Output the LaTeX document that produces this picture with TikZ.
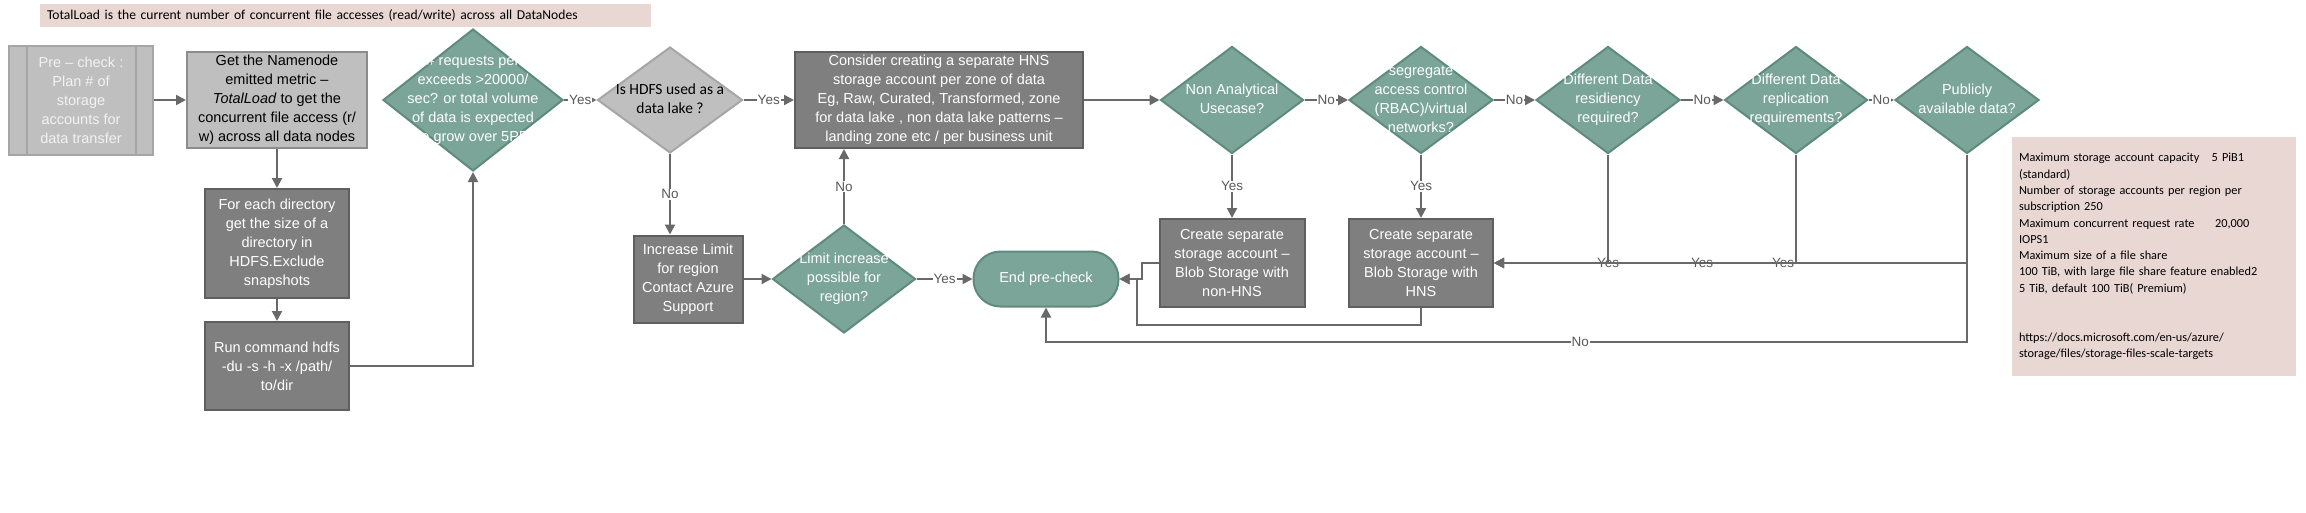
\documentclass[tikz,border=0pt]{standalone}
\usepackage{fontspec}
\setmainfont{Liberation Sans}
\newfontfamily\notefont{Carlito}
\usetikzlibrary{shapes.geometric,arrows.meta}
\definecolor{sage}{HTML}{7AA598}
\definecolor{sageedge}{HTML}{5F8B7D}
\definecolor{boxdark}{HTML}{7F7F7F}
\definecolor{edgedark}{HTML}{5F5F5F}
\definecolor{boxlight}{HTML}{BFBFBF}
\definecolor{edgelight}{HTML}{A6A6A6}
\definecolor{edgemid}{HTML}{8C8C8C}
\definecolor{pretext}{HTML}{F2F2F2}
\definecolor{wirecol}{HTML}{696969}
\definecolor{labgray}{HTML}{595959}
\definecolor{notepink}{HTML}{E9D7D4}
\newcommand{\qlines}[1]{\smash{\makebox[0pt]{\raisebox{-0.25em}{\begin{tabular}{@{}c@{}}#1\end{tabular}}}}}
\tikzset{
  base/.style={font=\fontsize{14.5}{19}\selectfont, align=center, inner sep=0pt, line width=2pt},
  lightbox/.style={base, rectangle, fill=boxlight, draw=edgemid},
  darkbox/.style={base, rectangle, fill=boxdark, draw=edgedark, text=white},
  decision/.style={font=\fontsize{14.5}{19}\selectfont, inner sep=0pt, line width=2pt, diamond, fill=sage, draw=sageedge, text=white},
  terminal/.style={base, rectangle, rounded corners=27pt, fill=sage, draw=sageedge, text=white},
  note/.style={fill=notepink, inner sep=0pt, align=left},
  wh/.style 2 args={minimum width=#1pt, minimum height=#2pt},
  wire/.style={draw=wirecol, line width=2pt, -{Triangle[length=10pt,width=10pt]}},
  lbl/.style={fill=white, inner sep=1pt, text=labgray, font=\fontsize{13.5}{15}\selectfont},
  lblx/.style={lbl, fill=none}
}
\begin{document}
\begin{tikzpicture}[x=1pt,y=-1pt]
\useasboundingbox (0,0) rectangle (2306,512);
\node[note, wh={611}{23}, text width=597pt, font=\notefont\fontsize{13.6}{15}\selectfont] (loadnote) at (345.5,15.5) {TotalLoad is the current number of concurrent file accesses (read/write) across all DataNodes};
\node[lightbox, draw=edgelight, text=pretext, wh={144}{109}] (pre) at (81,100) {Pre – check :\\Plan \# of\\storage\\accounts for\\data transfer};
\draw[draw=edgelight, line width=2pt] ([xshift=19pt]pre.north west) -- ([xshift=19pt]pre.south west);
\draw[draw=edgelight, line width=2pt] ([xshift=-18pt]pre.north east) -- ([xshift=-18pt]pre.south east);
\node[lightbox, wh={180}{96}] (nn) at (277,100) {Get the Namenode\\emitted metric –\\\textit{TotalLoad} to get the\\concurrent file access (r/\\w) across all data nodes};
\node[darkbox, wh={144}{109}] (dir) at (277,243.5) {For each directory\\get the size of a\\directory in\\HDFS.Exclude\\snapshots};
\node[darkbox, wh={144}{88}] (run) at (277,366) {Run command hdfs\\-du -s -h -x /path/\\to/dir};
\node[decision, text=white, wh={180}{142}] (q1) at (473,100) {\qlines{\# requests per\\exceeds >20000/\\sec? or total volume\\of data is expected\\to grow over 5PB}};
\node[decision, fill=boxlight, draw=edgelight, text=black, font=\notefont\fontsize{15.5}{19}\selectfont, wh={145}{106}] (lake) at (670,100) {\qlines{Is HDFS used as a\\data lake ?}};
\node[darkbox, wh={288}{96}] (cons) at (939,100) {Consider creating a separate HNS\\storage account per zone of data\\Eg, Raw, Curated,  Transformed,  zone\\for data lake , non data lake patterns –\\landing zone etc / per business unit};
\node[darkbox, wh={109}{87}] (inc) at (688,279) {Increase Limit\\for region\\Contact Azure\\Support};
\node[decision, wh={143}{108}] (lim) at (844,279) {\qlines{Limit increase\\possible for\\region?}};
\node[terminal, wh={145}{55}] (endn) at (1046,279) {End pre-check};
\node[decision, wh={143}{107}] (nonan) at (1232,100) {\qlines{Non Analytical\\Usecase?}};
\node[decision, wh={144}{107}] (seg) at (1421,100) {\qlines{segregate\\access control\\(RBAC)/virtual\\networks?}};
\node[decision, wh={144}{107}] (res) at (1608,100) {\qlines{Different Data\\residiency\\required?}};
\node[decision, wh={143}{107}] (rep) at (1796,100) {\qlines{Different Data\\replication\\requirements?}};
\node[decision, wh={144}{107}] (pub) at (1967,100) {\qlines{Publicly\\available data?}};
\node[darkbox, wh={145}{88}] (nonhns) at (1232,263) {Create separate\\storage account –\\Blob Storage with\\non-HNS};
\node[darkbox, wh={144}{88}] (hns) at (1421,263) {Create separate\\storage account –\\Blob Storage with\\HNS};
\node[note, wh={284}{239}, text width=270pt, font=\notefont\fontsize{12.3}{16.3}\selectfont] (limits) at (2154,256.5) {Maximum storage account capacity\quad 5 PiB1\\(standard)\\Number of storage accounts per region per\\subscription 250\\Maximum concurrent request rate\quad\ \ 20,000\\IOPS1\\Maximum size of a file share\\100 TiB, with large file share feature enabled2\\5 TiB, default 100 TiB( Premium)\\[32.6pt]https://docs.microsoft.com/en-us/azure/\\storage/files/storage-files-scale-targets};
\coordinate (nocorner) at (1967,342);
\draw[wire] (pre.east) -- (nn.west);
\draw[wire] (nn.south) -- (dir.north);
\draw[wire] (dir.south) -- (run.north);
\draw[wire] (run.east) -| (q1.south);
\draw[wire] (q1.east) -- node[lbl]{Yes} (lake.west);
\draw[wire] (lake.east) -- node[lbl]{Yes} (cons.west);
\draw[wire] (lake.south) -- node[lbl]{No} (lake.south |- inc.north);
\draw[wire] (inc.east) -- (lim.west);
\draw[wire] (lim.north) -- node[lbl]{No} (lim.north |- cons.south);
\draw[wire] (lim.east) -- node[lbl]{Yes} (endn.west);
\draw[wire] (cons.east) -- (nonan.west);
\draw[wire] (nonan.east) -- node[lbl]{No} (seg.west);
\draw[wire] (seg.east) -- node[lbl]{No} (res.west);
\draw[wire] (res.east) -- node[lbl]{No} (rep.west);
\draw[wire] (rep.east) -- node[lbl]{No} (pub.west);
\draw[wire] (nonan.south) -- node[lbl]{Yes} (nonhns.north);
\draw[wire] (seg.south) -- node[lbl]{Yes} (hns.north);
\draw[wire] (res.south) |- node[lblx]{Yes} (hns.east);
\draw[wire] (rep.south) |- node[lbl, anchor=east]{Yes} (hns.east);
\draw[wire] (pub.south) |- node[lblx, pos=0.78]{Yes} (hns.east);
\draw[wire] (pub.south) -- (nocorner) -| node[lbl, pos=0.21]{No} (endn.south);
\draw[wire] (nonhns.west) -- ++(-17,0) |- (endn.east);
\draw[wire] (hns.south) -- ++(0,17) -| ([xshift=17pt]endn.east) -- (endn.east);
\end{tikzpicture}
\end{document}
